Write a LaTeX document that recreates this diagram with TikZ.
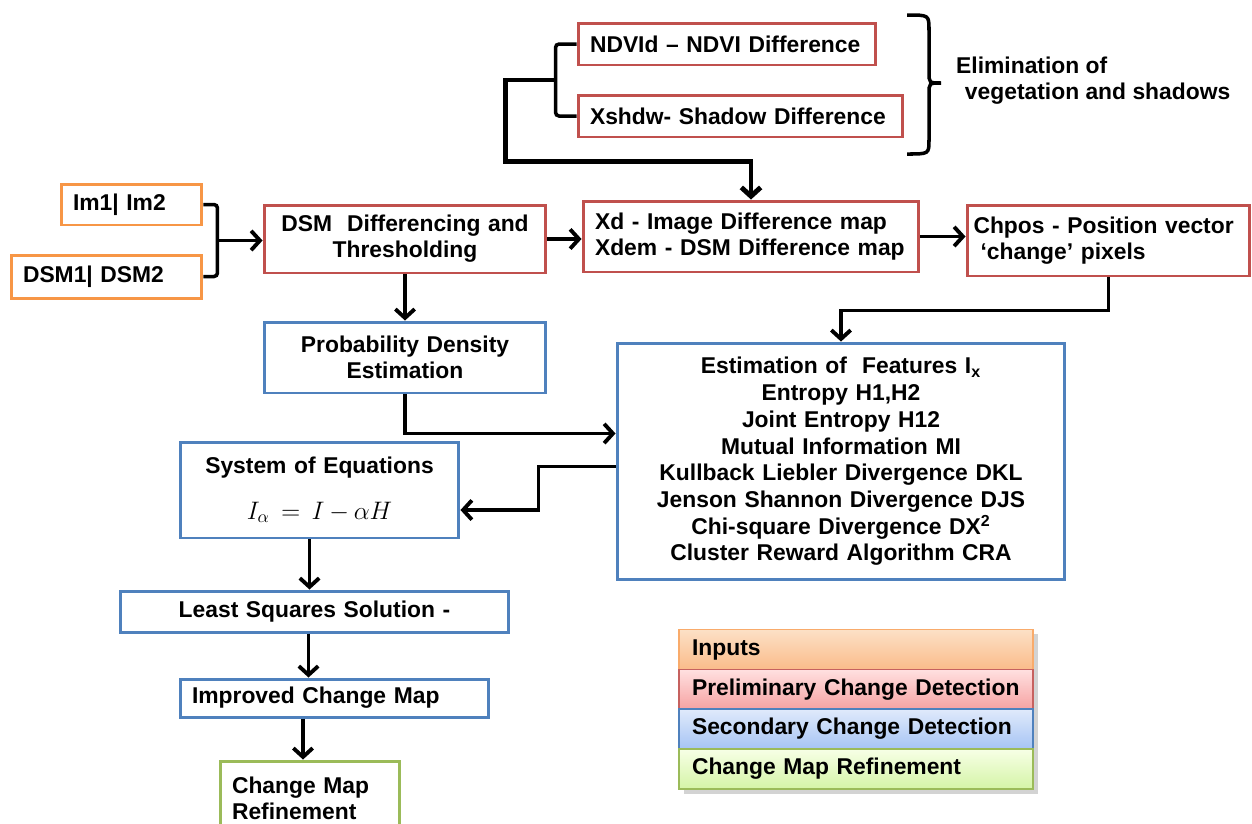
\documentclass[tikz,border=0pt]{standalone}
\usepackage{fontspec}
\setmainfont{Liberation Sans}
\usetikzlibrary{arrows.meta,calc,shadows}

\definecolor{naranja}{HTML}{F79646}
\definecolor{rojo}{HTML}{C0504D}
\definecolor{azul}{HTML}{4F81BD}
\definecolor{verde}{HTML}{9BBB59}
% legend shadings
\definecolor{inA}{RGB}{252,224,198}
\definecolor{inB}{RGB}{250,188,138}
\definecolor{preA}{RGB}{255,224,224}
\definecolor{preB}{RGB}{246,162,162}
\definecolor{secA}{RGB}{224,234,251}
\definecolor{secB}{RGB}{166,196,244}
\definecolor{refA}{RGB}{247,255,230}
\definecolor{refB}{RGB}{212,244,166}

\begin{document}
\begin{tikzpicture}[
    x=0.02cm, y=-0.02cm,
    font=\fontsize{13}{14.8}\selectfont\bfseries,
    caja/.style={draw, line width=1.7pt, fill=white, inner xsep=0.24cm, inner ysep=0pt},
    izq/.style={caja, align=left},
    cen/.style={caja, align=center},
    flecha/.style={line width=2.2pt, -{Straight Barb[length=5pt,width=11pt]}},
    llave/.style={line width=2pt, rounded corners=2pt},
    fila/.style={draw, line width=0.7pt, minimum width=7.08cm, minimum height=0.8cm,
                 text width=6.56cm, inner xsep=0.26cm, align=left,
                 drop shadow={opacity=0.35}}]

  \useasboundingbox (0,0) rectangle (1252,823);
  \clip (0,0) rectangle (1252,823);

  %% ============================== inputs ===================================
  \node[izq, draw=naranja, text width=2.34cm, minimum height=0.82cm] (im)    at (131.5,204.5) {Im1| Im2};
  \node[izq, draw=naranja, text width=3.34cm, minimum height=0.86cm] (dsmin) at (106.5,276.5) {DSM1| DSM2};

  %% ======================= preliminary change detection ====================
  \node[cen, draw=rojo, text width=5.16cm, minimum height=1.36cm] (dsm)   at (405,239)     {DSM~~Differencing and\\Thresholding};
  \node[izq, draw=rojo, text width=5.48cm, minimum height=0.84cm] (ndvi)  at (727,44)      {NDVId – NDVI Difference};
  \node[izq, draw=rojo, text width=6.02cm, minimum height=0.84cm] (shdw)  at (740.5,116)   {Xshdw- Shadow Difference};
  \node[izq, draw=rojo, text width=6.24cm, minimum height=1.42cm] (xd)    at (751,236.5)   {Xd - Image Difference map\\Xdem - DSM Difference map};
  \node[izq, draw=rojo, text width=5.40cm, inner xsep=0.13cm, minimum height=1.42cm] (chpos) at (1108.5,240.5)
       {Chpos - Position vector\\\hspace*{4pt}‘change’ pixels};
  \node[anchor=west, align=left] (elim) at (950,81) {Elimination of\\\hspace*{5pt}vegetation and shadows};

  %% ======================== secondary change detection =====================
  \node[cen, draw=azul, text width=5.16cm, minimum height=1.42cm] (prob) at (405,357.5) {Probability Density\\Estimation};
  \node[cen, draw=azul, text width=8.48cm, minimum height=4.74cm,
        font=\fontsize{13}{15.2}\selectfont\bfseries] (feat) at (841,461.5)
       {Estimation of~~Features I\textsubscript{x}\\Entropy H1,H2\\Joint Entropy H12\\Mutual Information MI\\
        Kullback Liebler Divergence DKL\\Jenson Shannon Divergence DJS\\Chi-square Divergence DX\textsuperscript{2}\\
        Cluster Reward Algorithm CRA};
  \node[cen, draw=azul, text width=5.10cm, minimum height=1.92cm] (sist) at (319.5,490)
       {System of Equations\\[11pt]{\normalfont\Large $I_{\alpha}\!=\!I\!-\!\alpha H$}\hspace{10pt}};
  \node[cen, draw=azul, text width=7.30cm, minimum height=0.82cm] (lss)  at (314.5,611.5) {Least Squares Solution -};
  \node[izq, draw=azul, text width=5.70cm, minimum height=0.76cm] (impr) at (334.5,698)   {Improved Change Map};

  %% ========================= change map refinement =========================
  \node[izq, draw=verde, text width=3.12cm, minimum height=1.48cm] (refin) at (310,798) {Change Map\\Refinement};

  %% =============================== connectors ==============================
  \draw[llave] (im.east) -- ++(14,0) |- (dsmin.east);
  \coordinate (llaveIn) at ($(im.east)!0.5!(dsmin.east)+(14,0)$);
  \draw[flecha] (llaveIn) -- (llaveIn -| dsm.west);

  \draw[llave] (ndvi.west) -- ++(-21,0) |- (shdw.west);
  \coordinate (llaveVeg) at ($(ndvi.west)!0.5!(shdw.west)+(-21,0)$);
  \draw[flecha, line width=2.8pt] (llaveVeg) -- ++(-50,0) |- ($(xd.north)+(0,-38)$) -- (xd.north);

  \draw[line width=2pt] (907,15) .. controls (929,15) .. (929,30) -- (929,72)
       .. controls (929,83) .. (941,83) .. controls (929,83) .. (929,94) -- (929,140)
       .. controls (929,154) .. (907,154);

  \draw[flecha] (dsm.east) -- (dsm.east -| xd.west);
  \draw[flecha] (xd.east) -- (xd.east -| chpos.west);
  \draw[flecha] (dsm.south) -- (prob.north);
  \draw[flecha] (chpos.south) -- ++(0,33) -| (feat.north);
  \draw[flecha] (prob.south) |- ($(feat.west)+(0,-28)$);
  \draw[flecha] ($(feat.west)+(0,5)$) -- ++(-77,0) |- ($(sist.east)+(0,20)$);
  \draw[flecha] ([xshift=-0.2cm]sist.south) -- ([xshift=-0.2cm]sist.south |- lss.north);
  \draw[flecha] ([xshift=-0.12cm]lss.south) -- ([xshift=-0.12cm]lss.south |- impr.north);
  \draw[flecha] ([xshift=-0.14cm]refin.north |- impr.south) -- ([xshift=-0.14cm]refin.north);

  %% ================================ legend =================================
  \foreach \n/\txt/\y/\borde/\arriba/\abajo in {
      lin/Inputs/649.5/naranja!80/inA/inB,
      lpre/Preliminary Change Detection/689.5/rojo!90/preA/preB,
      lsec/Secondary Change Detection/729/azul/secA/secB,
      lref/Change Map Refinement/769/verde/refA/refB}
    \node[fila, draw=\borde, top color=\arriba, bottom color=\abajo] (\n) at (856,\y) {\txt};

\end{tikzpicture}
\end{document}
